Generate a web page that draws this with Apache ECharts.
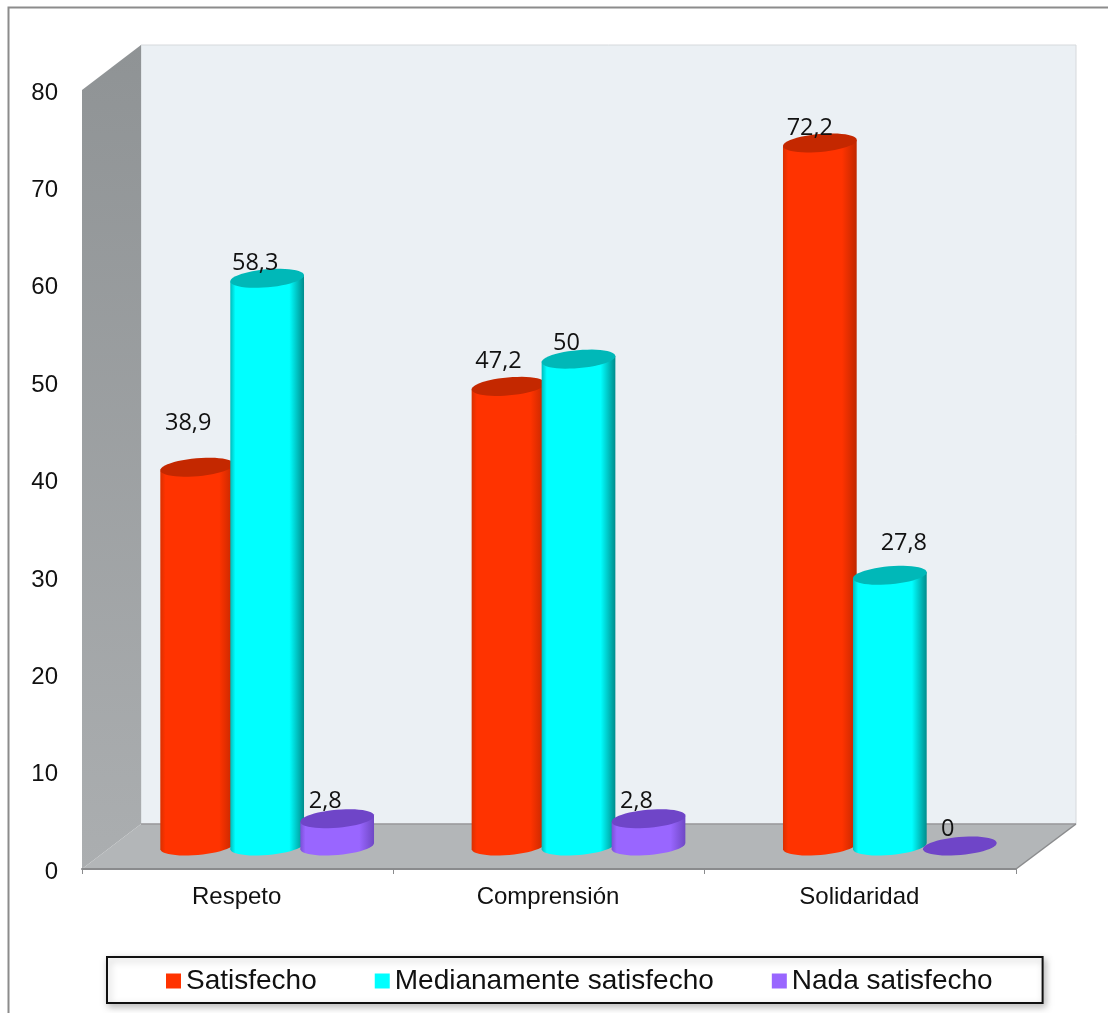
<!DOCTYPE html>
<html>
<head>
<meta charset="utf-8">
<style>html,body{margin:0;padding:0;background:#fff}#chart{width:1108px;height:1013px}</style>
<script src="https://cdn.jsdelivr.net/npm/echarts@6/dist/echarts.min.js"></script>
</head>
<body>
<div id="chart"></div>
<script>
// Survey results by dimension, in percent
const categories = ['Respeto', 'Comprensión', 'Solidaridad'];
const satisfecho = [38.9, 47.2, 72.2];
const medianamente = [58.3, 50, 27.8];
const nada = [2.8, 2.8, 0];
const valueLabels = [
  ['38,9', '47,2', '72,2'],
  ['58,3', '50', '27,8'],
  ['2,8', '2,8', '0']
];

// Hand-placed label offsets from each cylinder's top centre, in pixels
const labelNudge = [
  [[-9, -44], [-10, -25], [-10, -15]],
  [[-12, -15], [-12, -16], [14, -32]],
  [[-12, -17], [-12, -17], [-12, -17]]
];

// Plot box and the oblique projection of the chamber behind it
const LEFT = 82, RIGHT = 1016, TOP = 90, BOTTOM = 869;
const DEPTH_X = 59, DEPTH_Y = 45;
const RX = 37, RY = 9, TILT = 5 * Math.PI / 180;
const SERIES_STEP = 70;
const LIFT = 23; // cylinders stand halfway back on the floor

const palette = [
  {base: '#ff3300', edgeL: '#d93000', edgeR: '#c02800', top: '#c42800'},
  {base: '#00ffff', edgeL: '#00bcbc', edgeR: '#008c8c', top: '#00b8b8'},
  {base: '#9966ff', edgeL: '#7a50d6', edgeR: '#6f48c4', top: '#6f45c8'}
];

function ellipsePoints(cx, cy) {
  const pts = [];
  for (let i = 0; i < 48; i++) {
    const t = i / 48 * 2 * Math.PI;
    const ex = RX * Math.cos(t), ey = RY * Math.sin(t);
    pts.push([cx + ex * Math.cos(TILT) + ey * Math.sin(TILT),
              cy - ex * Math.sin(TILT) + ey * Math.cos(TILT)]);
  }
  return pts;
}

// Outline of the visible side: top rim's left and right ends plus the lower half of the base
function sidePoints(cx, topY, baseY) {
  const pts = [];
  for (let i = 0; i <= 24; i++) {
    const t = i / 24 * Math.PI;
    const ex = RX * Math.cos(t), ey = RY * Math.sin(t);
    pts.push([cx + ex * Math.cos(TILT) + ey * Math.sin(TILT),
              baseY - ex * Math.sin(TILT) + ey * Math.cos(TILT)]);
  }
  pts.push([cx - RX * Math.cos(TILT), topY + RX * Math.sin(TILT)]);
  pts.push([cx + RX * Math.cos(TILT), topY - RX * Math.sin(TILT)]);
  return pts;
}

function cylinderRenderer(seriesIndex) {
  const colors = palette[seriesIndex];
  return function (params, api) {
    const cat = api.value(0), val = api.value(1);
    const top = api.coord([cat, val]);
    const base = api.coord([cat, 0]);
    const cx = top[0] + DEPTH_X / 2 + (seriesIndex - 1) * SERIES_STEP;
    const topY = top[1] - LIFT;
    const baseY = base[1] - LIFT;
    const children = [];
    if (val > 0) {
      children.push({
        type: 'polygon',
        shape: {points: sidePoints(cx, topY, baseY)},
        style: {
          fill: new echarts.graphic.LinearGradient(0, 0, 1, 0, [
            {offset: 0, color: colors.edgeL},
            {offset: 0.07, color: colors.base},
            {offset: 0.8, color: colors.base},
            {offset: 1, color: colors.edgeR}
          ])
        }
      });
    }
    children.push({
      type: 'polygon',
      shape: {points: ellipsePoints(cx, topY)},
      style: {fill: colors.top}
    });
    const nudge = labelNudge[seriesIndex][params.dataIndex];
    children.push({
      type: 'text',
      z2: 100,
      style: {
        text: valueLabels[seriesIndex][params.dataIndex],
        x: cx + nudge[0],
        y: topY + nudge[1],
        align: 'center',
        verticalAlign: 'middle',
        fontFamily: '"Open Sans", "Noto Sans", sans-serif',
        fontSize: 23.5,
        fill: '#111'
      }
    });
    return {type: 'group', children: children};
  };
}

function seriesOf(name, values, idx) {
  return {
    name: name,
    type: 'custom',
    coordinateSystem: 'cartesian2d',
    itemStyle: {color: palette[idx].base},
    encode: {x: 0, y: 1},
    clip: false,
    z: 3 + idx,
    data: values.map((v, i) => [i, v]),
    renderItem: cylinderRenderer(idx)
  };
}

// Chamber walls and outer frame
const chamber = [
  {type: 'polygon', z: 0, silent: true,
   shape: {points: [[LEFT + DEPTH_X, TOP - DEPTH_Y], [RIGHT + DEPTH_X + 1, TOP - DEPTH_Y], [RIGHT + DEPTH_X + 1, BOTTOM - DEPTH_Y], [LEFT + DEPTH_X, BOTTOM - DEPTH_Y]]},
   style: {fill: '#ebf0f4', stroke: '#d6d9dc', lineWidth: 1}},
  {type: 'polygon', z: 0, silent: true,
   shape: {points: [[LEFT, TOP], [LEFT + DEPTH_X, TOP - DEPTH_Y], [LEFT + DEPTH_X, BOTTOM - DEPTH_Y], [LEFT, BOTTOM]]},
   style: {fill: new echarts.graphic.LinearGradient(0, 0, 0, 1, [
     {offset: 0, color: '#8f9395'}, {offset: 1, color: '#abaeb0'}
   ])}},
  {type: 'polygon', z: 0, silent: true,
   shape: {points: [[LEFT, BOTTOM], [LEFT + DEPTH_X, BOTTOM - DEPTH_Y], [RIGHT + DEPTH_X + 1, BOTTOM - DEPTH_Y], [RIGHT, BOTTOM]]},
   style: {fill: '#b3b6b8'}},
  {type: 'line', z: 0, silent: true,
   shape: {x1: LEFT + DEPTH_X, y1: BOTTOM - DEPTH_Y, x2: RIGHT + DEPTH_X + 1, y2: BOTTOM - DEPTH_Y},
   style: {stroke: '#98999b', lineWidth: 1.5}},
  {type: 'line', z: 0, silent: true,
   shape: {x1: RIGHT, y1: BOTTOM, x2: RIGHT + DEPTH_X + 1, y2: BOTTOM - DEPTH_Y},
   style: {stroke: '#8a8b8d', lineWidth: 1.5}},
  {type: 'polyline', z: 0, silent: true,
   shape: {points: [[8.5, 1013], [8.5, 7.5], [1108, 7.5]]},
   style: {stroke: '#8c8c8c', lineWidth: 2, fill: 'none'}}
];

const chart = echarts.init(document.getElementById('chart'), null, {renderer: 'canvas'});
chart.setOption({
  animation: false,
  backgroundColor: '#ffffff',
  graphic: {elements: chamber},
  legend: {
    show: true,
    left: 107,
    top: 957,
    width: 935,
    orient: 'horizontal',
    data: ['Satisfecho', 'Medianamente satisfecho', 'Nada satisfecho'],
    icon: 'rect',
    itemWidth: 15,
    itemHeight: 15,
    itemGap: 58,
    padding: [10, 50, 8, 59],
    backgroundColor: '#ffffff',
    borderColor: '#111111',
    borderWidth: 2,
    shadowColor: 'rgba(0,0,0,0.25)',
    shadowBlur: 7,
    shadowOffsetX: 2,
    shadowOffsetY: 3,
    selectedMode: false,
    textStyle: {fontFamily: '"Liberation Sans", Arial, sans-serif', fontSize: 28, color: '#111'}
  },
  grid: {left: LEFT, top: TOP, width: RIGHT - LEFT, height: BOTTOM - TOP, containLabel: false},
  xAxis: {
    type: 'category',
    data: categories,
    boundaryGap: true,
    axisLine: {show: true, lineStyle: {color: '#8a8b8d', width: 2}},
    axisTick: {show: true, length: 5, alignWithLabel: false, lineStyle: {color: '#8a8b8d'}},
    axisLabel: {margin: 16, padding: [0, 2, 0, 0], fontFamily: '"Liberation Sans", Arial, sans-serif', fontSize: 24, color: '#111'},
    splitLine: {show: false}
  },
  yAxis: {
    type: 'value',
    min: 0,
    max: 80,
    interval: 10,
    axisLine: {show: false},
    axisTick: {show: false},
    splitLine: {show: false},
    axisLabel: {margin: 24, verticalAlign: 'top', lineHeight: 6, fontFamily: '"Liberation Sans", Arial, sans-serif', fontSize: 24, color: '#111'}
  },
  series: [
    seriesOf('Satisfecho', satisfecho, 0),
    seriesOf('Medianamente satisfecho', medianamente, 1),
    seriesOf('Nada satisfecho', nada, 2)
  ]
});
</script>
</body>
</html>
